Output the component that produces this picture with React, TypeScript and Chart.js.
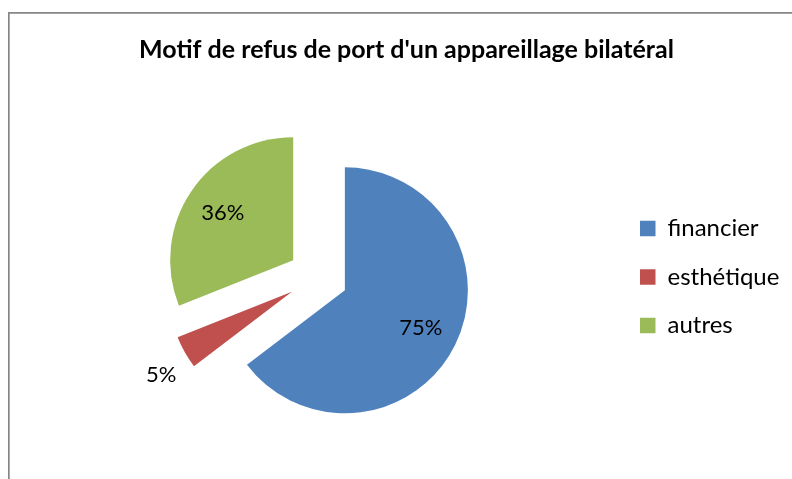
import React, { useEffect, useRef } from "react";
import { Chart, registerables } from "chart.js";

Chart.register(...registerables);

const TITLE = "Motif de refus de port d'un appareillage bilatéral";
const categories = ["financier", "esthétique", "autres"];
const values = [75, 5, 36];
const colors = ["#4F81BD", "#C0504D", "#9BBB59"];

const FONT = "Lato, 'Open Sans', 'DejaVu Sans', sans-serif";
const EXPLODE = 30;
const W = 792;
const H = 479;
const TITLE_SIZE = 25;
const LEGEND_SIZE = 24;
const LEGEND_PAD = 24.5;
const LEGEND_BOX = 15.5;
const LABEL_SIZE = 22;
const TITLE_CX = 406.5;
const PIE_CX = 318;
const LEGEND_BOX_X = 640;

function measure(font: string, text: string) {
  const c = document.createElement("canvas").getContext("2d")!;
  c.font = font;
  return c.measureText(text).width;
}

const explodePlugin = {
  id: "explode",
  beforeDatasetDraw(chart: any, args: any) {
    const ctx = chart.ctx;
    args.meta.data.forEach((arc: any) => {
      const mid = (arc.startAngle + arc.endAngle) / 2;
      ctx.save();
      ctx.translate(Math.cos(mid) * EXPLODE, Math.sin(mid) * EXPLODE);
      arc.draw(ctx);
      ctx.restore();
    });
    return false;
  },
};

const labelPlugin = {
  id: "sliceLabels",
  afterDatasetsDraw(chart: any) {
    const ctx = chart.ctx;
    const meta = chart.getDatasetMeta(0);
    const data = chart.data.datasets[0].data as number[];
    ctx.save();
    ctx.font = `${LABEL_SIZE}px ${FONT}`;
    ctx.fillStyle = "#000";
    ctx.textAlign = "center";
    ctx.textBaseline = "middle";
    meta.data.forEach((arc: any, i: number) => {
      const { x, y, startAngle, endAngle, outerRadius } = arc.getProps(
        ["x", "y", "startAngle", "endAngle", "outerRadius"],
        true
      );
      const mid = (startAngle + endAngle) / 2;
      const frac = (endAngle - startAngle) / (2 * Math.PI);
      const small = frac < 0.1;
      const rr = small ? outerRadius * 1.26 : outerRadius * 0.69;
      const a = small ? mid - 0.054 : mid;
      const lx = x + Math.cos(mid) * EXPLODE + Math.cos(a) * rr;
      const ly = y + Math.sin(mid) * EXPLODE + Math.sin(a) * rr;
      ctx.fillText(`${data[i]}%`, lx, ly);
    });
    ctx.restore();
  },
};

const framePlugin = {
  id: "frame",
  beforeDraw(chart: any) {
    const ctx = chart.ctx;
    ctx.save();
    ctx.strokeStyle = "#878787";
    ctx.lineWidth = 1.7;
    ctx.beginPath();
    ctx.moveTo(8.85, chart.height);
    ctx.lineTo(8.85, 12.85);
    ctx.lineTo(chart.width, 12.85);
    ctx.stroke();
    ctx.restore();
  },
};

export default function App() {
  const ref = useRef<HTMLCanvasElement>(null);
  useEffect(() => {
    if (!ref.current) return;
    Chart.defaults.color = "#000";
    const legendFont = `${LEGEND_SIZE}px ${FONT}`;
    const maxText = Math.max(...categories.map((t) => measure(legendFont, t)));
    const colW = LEGEND_BOX + LEGEND_SIZE / 2 + maxText;
    const padRight = W - (LEGEND_BOX_X + colW + 10);
    const padLeft = 2 * TITLE_CX - W + padRight;
    const legendLeft = LEGEND_BOX_X - LEGEND_PAD;
    const spacer = Math.max(0, legendLeft - (2 * PIE_CX - padLeft));
    const titleLH = TITLE_SIZE * 1.2;
    const titlePadTop = 50 - titleLH / 2;
    const titlePadBottom = 100 - titlePadTop - titleLH;

    const chart = new Chart(ref.current, {
      type: "pie",
      data: {
        labels: categories,
        datasets: [
          {
            data: values,
            backgroundColor: colors,
            borderWidth: 0,
            offset: 0,
            hoverOffset: 0,
          } as any,
        ],
      },
      options: {
        animation: false,
        responsive: false,
        radius: 123,
        layout: { padding: { left: padLeft, right: padRight, top: 0, bottom: 25 } },
        plugins: {
          title: {
            display: true,
            text: TITLE,
            color: "#000",
            font: { family: FONT, size: TITLE_SIZE, weight: "bold" },
            padding: { top: titlePadTop, bottom: titlePadBottom },
          },
          subtitle: {
            display: spacer > 0.5,
            text: "",
            position: "right",
            fullSize: false,
            weight: 500,
            font: { size: 1, lineHeight: 0 },
            padding: { top: spacer, bottom: 0 },
          },
          legend: {
            position: "right",
            fullSize: false,
            labels: {
              color: "#000",
              font: { family: FONT, size: LEGEND_SIZE },
              boxWidth: LEGEND_BOX,
              boxHeight: LEGEND_BOX,
              padding: LEGEND_PAD,
            },
          },
          tooltip: { enabled: false },
        },
      } as any,
      plugins: [framePlugin, explodePlugin, labelPlugin],
    });
    return () => chart.destroy();
  }, []);
  return (
    <div style={{ position: "absolute", left: 0, top: 0, width: W, height: H, background: "#fff" }}>
      <canvas ref={ref} width={W} height={H} style={{ width: W, height: H }} />
    </div>
  );
}
